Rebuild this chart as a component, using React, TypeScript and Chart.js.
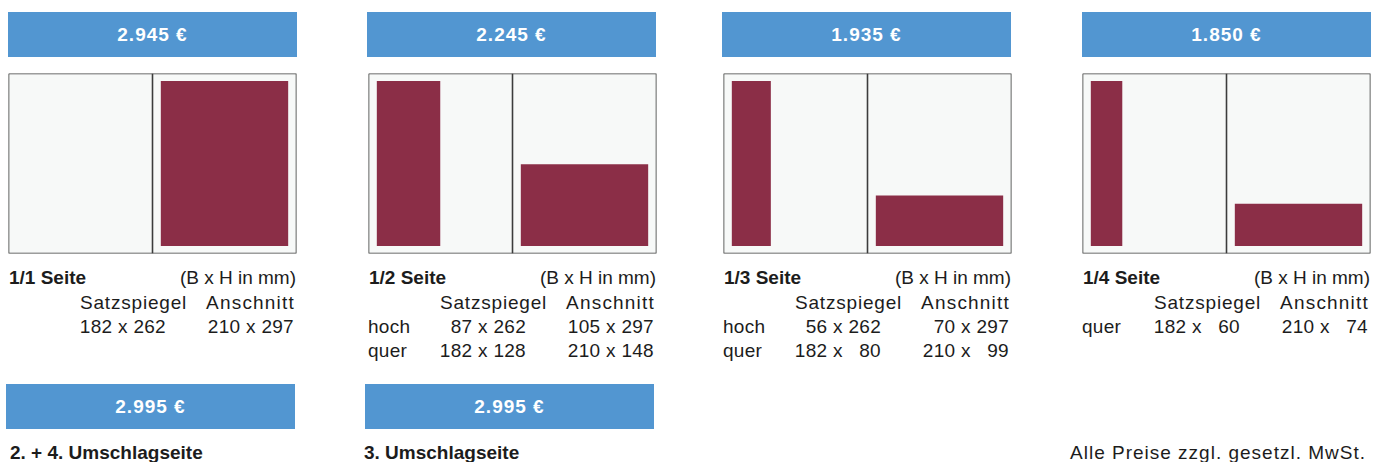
import React, { useEffect, useRef } from "react";
import { Chart, registerables } from "chart.js";

Chart.register(...registerables);

// ---------- data ----------
const FORMATS = ["1/1 Seite", "1/2 Seite", "1/3 Seite", "1/4 Seite"];
const PRICES = ["2.945 €", "2.245 €", "1.935 €", "1.850 €"];
const ROW_LABELS = [[""], ["hoch", "quer"], ["hoch", "quer"], ["quer"]];
const SATZSPIEGEL = [
  ["182 x 262"],
  ["87 x 262", "182 x 128"],
  ["56 x 262", "182 x \u200780"],
  ["182 x \u200760"],
];
const ANSCHNITT = [
  ["210 x 297"],
  ["105 x 297", "210 x 148"],
  ["70 x 297", "210 x \u200799"],
  ["210 x \u200774"],
];
// drawn ad sizes (mm) inside the 182 x 262 type area
const HOCH_WIDTH = [null, 91, 56, 45.5]; // left page, full type-area height
const QUER_HEIGHT = [262, 130, 80, 67]; // right page, full type-area width
const TYPE_AREA_W = 182;
const TYPE_AREA_H = 262;
const COVER_PRICES = ["2.995 €", "2.995 €"];
const COVER_LABELS = ["2. + 4. Umschlagseite", "3. Umschlagseite"];
const NOTE = "Alle Preise zzgl. gesetzl. MwSt.";
const HEADER_UNIT = "(B x H in mm)";
const HEADER_SATZ = "Satzspiegel";
const HEADER_ANSCH = "Anschnitt";

// ---------- layout (not data) ----------
const PAGE_W = 205;
const PAGE_H = 286;
const MX = 11.5;
const MY = 12;
const BOX_LEFT = [8, 368, 723, 1082];
const BLUE_LEFT = [8, 367, 722, 1082];
const COVER_LEFT = [6, 365];
const BOX_TOP = 73;
const BOX_W = 289;
const BOX_H = 181;
const BLUE = "#5296d1";
const RED = "#8b2e47";
const PAGE_BG = "#f7f9f8";
const BORDER = "#3c3c3c";
const TEXT = "#1c1c1c";
const FONT = "'Liberation Sans', Arial, sans-serif";

function rect(x0: number, x1: number, y0: number, y1: number, color: string, order: number) {
  return {
    type: "line" as const,
    data: [
      { x: x0, y: y0 },
      { x: x1, y: y0 },
    ],
    fill: { value: y1 },
    backgroundColor: color,
    borderWidth: 0,
    borderColor: "rgba(0,0,0,0)",
    pointRadius: 0,
    order,
  };
}

function polyline(points: { x: number; y: number }[], order: number) {
  return {
    type: "line" as const,
    data: points,
    fill: false,
    borderColor: BORDER,
    borderWidth: 1.6,
    pointRadius: 0,
    order,
  };
}

function Spread({ index }: { index: number }) {
  const ref = useRef<HTMLCanvasElement | null>(null);
  useEffect(() => {
    if (!ref.current) return;
    const datasets: any[] = [];
    // pages
    datasets.push(rect(0, PAGE_W, 0, PAGE_H, PAGE_BG, 5));
    datasets.push(rect(PAGE_W, 2 * PAGE_W, 0, PAGE_H, PAGE_BG, 5));
    // hoch ad on left page
    const hw = HOCH_WIDTH[index];
    if (hw != null) {
      datasets.push(rect(MX, MX + hw, MY, MY + TYPE_AREA_H, RED, 3));
    }
    // quer ad on right page
    const qh = QUER_HEIGHT[index];
    if (qh != null) {
      datasets.push(
        rect(PAGE_W + MX, PAGE_W + MX + TYPE_AREA_W, MY + TYPE_AREA_H - qh, MY + TYPE_AREA_H, RED, 3)
      );
    }
    // outline and spine
    datasets.push(
      polyline(
        [
          { x: 0, y: 0 },
          { x: 2 * PAGE_W, y: 0 },
          { x: 2 * PAGE_W, y: PAGE_H },
          { x: 0, y: PAGE_H },
          { x: 0, y: 0 },
        ],
        1
      )
    );
    datasets.push(
      polyline(
        [
          { x: PAGE_W, y: 0 },
          { x: PAGE_W, y: PAGE_H },
        ],
        1
      )
    );

    const chart = new Chart(ref.current, {
      type: "line",
      data: { datasets },
      options: {
        responsive: false,
        maintainAspectRatio: false,
        animation: false,
        devicePixelRatio: 1,
        events: [],
        layout: { padding: 2.5 },
        plugins: {
          legend: { display: false },
          tooltip: { enabled: false },
          title: { display: false },
        },
        elements: { line: { tension: 0 }, point: { radius: 0 } },
        scales: {
          x: { type: "linear", min: 0, max: 2 * PAGE_W, display: false },
          y: { type: "linear", min: 0, max: PAGE_H, reverse: true, display: false },
        },
      },
    } as any);
    return () => chart.destroy();
  }, [index]);

  return (
    <canvas
      ref={ref}
      width={BOX_W + 4}
      height={BOX_H + 4}
      style={{
        position: "absolute",
        left: BOX_LEFT[index] - 2,
        top: BOX_TOP - 2,
        width: BOX_W + 4,
        height: BOX_H + 4,
      }}
    />
  );
}

const textBase: React.CSSProperties = {
  position: "absolute",
  fontFamily: FONT,
  fontSize: 19,
  lineHeight: "24px",
  color: TEXT,
  whiteSpace: "pre",
  letterSpacing: "0.3px",
};

function PriceBox({ left, top, label }: { left: number; top: number; label: string }) {
  return (
    <div
      style={{
        position: "absolute",
        left,
        top,
        width: BOX_W,
        height: 45,
        background: BLUE,
        color: "#fff",
        fontFamily: FONT,
        fontWeight: 700,
        fontSize: 19,
        letterSpacing: "1px",
        display: "flex",
        alignItems: "center",
        justifyContent: "center",
      }}
    >
      {label}
    </div>
  );
}

function Info({ index }: { index: number }) {
  const L = BOX_LEFT[index];
  const rowTop = (c: number) => c - 12;
  const rows = ROW_LABELS[index];
  return (
    <>
      <div style={{ ...textBase, left: L + 1, top: rowTop(278), fontWeight: 700, letterSpacing: "0px" }}>
        {FORMATS[index]}
      </div>
      <div style={{ ...textBase, right: 1383 - (L + 288), top: rowTop(278), letterSpacing: "0px" }}>
        {HEADER_UNIT}
      </div>
      <div style={{ ...textBase, left: L + 72, top: rowTop(303), letterSpacing: "0.8px" }}>{HEADER_SATZ}</div>
      <div style={{ ...textBase, right: 1383 - (L + 287), top: rowTop(303), letterSpacing: "1.2px" }}>
        {HEADER_ANSCH}
      </div>
      {rows.map((r, i) => (
        <React.Fragment key={i}>
          <div style={{ ...textBase, left: L, top: rowTop(327 + i * 24) }}>{r}</div>
          <div style={{ ...textBase, right: 1383 - (L + 158), top: rowTop(327 + i * 24) }}>
            {SATZSPIEGEL[index][i]}
          </div>
          <div style={{ ...textBase, right: 1383 - (L + 286), top: rowTop(327 + i * 24) }}>
            {ANSCHNITT[index][i]}
          </div>
        </React.Fragment>
      ))}
    </>
  );
}

export default function App() {
  return (
    <div
      style={{
        position: "absolute",
        left: 0,
        top: 0,
        width: 1383,
        height: 462,
        overflow: "hidden",
        background: "#ffffff",
      }}
    >
      {PRICES.map((p, i) => (
        <PriceBox key={"p" + i} left={BLUE_LEFT[i]} top={12} label={p} />
      ))}
      {FORMATS.map((_, i) => (
        <Spread key={"s" + i} index={i} />
      ))}
      {FORMATS.map((_, i) => (
        <Info key={"i" + i} index={i} />
      ))}
      {COVER_PRICES.map((p, i) => (
        <PriceBox key={"c" + i} left={COVER_LEFT[i]} top={384} label={p} />
      ))}
      {COVER_LABELS.map((t, i) => (
        <div
          key={"cl" + i}
          style={{ ...textBase, left: COVER_LEFT[i] + 4 - (i === 1 ? 5 : 0), top: 441, fontWeight: 700, letterSpacing: "0px" }}
        >
          {t}
        </div>
      ))}
      <div style={{ ...textBase, right: 1383 - 1366, top: 441, letterSpacing: "1px" }}>{NOTE}</div>
    </div>
  );
}
